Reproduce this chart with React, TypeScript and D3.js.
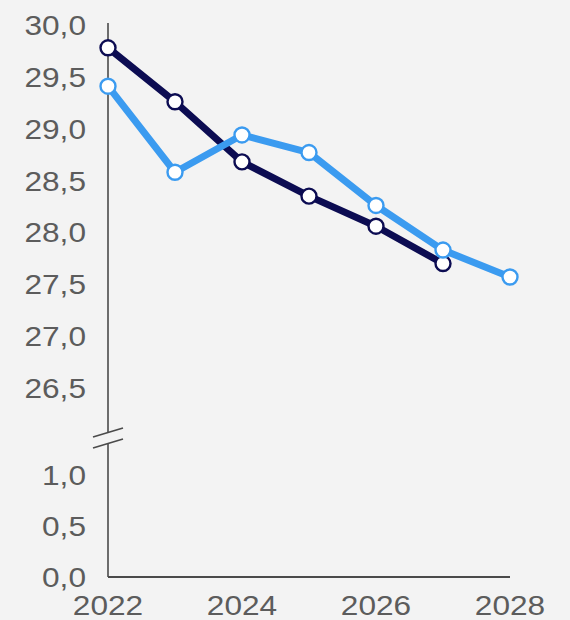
import React from "react";
import * as d3 from "d3";

const years = [2022, 2023, 2024, 2025, 2026, 2027, 2028];
const xTickYears = [2022, 2024, 2026, 2028];
const upperTicks = [26.5, 27.0, 27.5, 28.0, 28.5, 29.0, 29.5, 30.0];
const lowerTicks = [0.0, 0.5, 1.0];

const navyYears = [2022, 2023, 2024, 2025, 2026, 2027];
const navyValues = [29.78, 29.26, 28.68, 28.35, 28.06, 27.7];

const blueYears = [2022, 2023, 2024, 2025, 2026, 2027, 2028];
const blueValues = [29.41, 28.58, 28.94, 28.77, 28.26, 27.83, 27.57];

const W = 570;
const H = 620;
const BG = "#f3f3f3";
const AXIS = "#4a4a4a";
const TEXT = "#5c5c5c";
const NAVY = "#0c0c52";
const BLUE = "#3b9bf0";

const fmt = d3
  .formatLocale({ decimal: ",", thousands: ".", grouping: [3], currency: ["", ""] })
  .format(".1f");

const x = d3.scaleLinear().domain([d3.min(years)!, d3.max(years)!]).range([108, 510]);
const yUpper = d3.scaleLinear().domain([26.5, 30]).range([388, 25]);
const yLower = d3.scaleLinear().domain([0, 1]).range([577, 475]);

const axisX = x(2022);
const axisTop = 23;
const axisBottom = yLower(0);

const line = d3
  .line<[number, number]>()
  .x((d) => x(d[0]))
  .y((d) => yUpper(d[1]));

function Label({ x: px, y: py, anchor, children }: { x: number; y: number; anchor: string; children: React.ReactNode }) {
  return (
    <text
      transform={`translate(${px},${py}) scale(1.13,1)`}
      textAnchor={anchor}
      fontFamily="'Liberation Sans', Arial, sans-serif"
      fontSize={28}
      fill={TEXT}
    >
      {children}
    </text>
  );
}

function Series({ xs, ys, color }: { xs: number[]; ys: number[]; color: string }) {
  const pts = xs.map((yr, i) => [yr, ys[i]] as [number, number]);
  return (
    <g>
      <path d={line(pts) ?? ""} fill="none" stroke={color} strokeWidth={7} strokeLinejoin="round" />
      {pts.map((p, i) => (
        <circle key={i} cx={x(p[0])} cy={yUpper(p[1])} r={7.5} fill="#ffffff" stroke={color} strokeWidth={2.4} />
      ))}
    </g>
  );
}

export default function App() {
  const breakY1 = 437;
  const breakY2 = 448;
  const slope = -9;
  return (
    <svg
      width={W}
      height={H}
      style={{ position: "absolute", left: 0, top: 0, background: BG }}
    >
      <rect width={W} height={H} fill={BG} />

      {/* y axis and x axis */}
      <line x1={axisX} x2={axisX} y1={axisTop} y2={axisBottom} stroke={AXIS} strokeWidth={1.6} />
      <line x1={axisX} x2={x(2028)} y1={axisBottom} y2={axisBottom} stroke={AXIS} strokeWidth={2} />

      {/* axis break */}
      <polygon
        points={`93,${breakY1} 123,${breakY1 + slope} 123,${breakY2 + slope} 93,${breakY2}`}
        fill={BG}
      />
      <line x1={93} y1={breakY1} x2={123} y2={breakY1 + slope} stroke={AXIS} strokeWidth={1.6} />
      <line x1={93} y1={breakY2} x2={123} y2={breakY2 + slope} stroke={AXIS} strokeWidth={1.6} />

      {/* y tick labels */}
      {upperTicks.map((t) => (
        <Label key={`u${t}`} x={86} y={yUpper(t) + 10} anchor="end">
          {fmt(t)}
        </Label>
      ))}
      {lowerTicks.map((t) => (
        <Label key={`l${t}`} x={86} y={yLower(t) + 10} anchor="end">
          {fmt(t)}
        </Label>
      ))}

      {/* x tick labels */}
      {xTickYears.map((yr) => (
        <Label key={yr} x={x(yr)} y={615} anchor="middle">
          {yr}
        </Label>
      ))}

      <Series xs={navyYears} ys={navyValues} color={NAVY} />
      <Series xs={blueYears} ys={blueValues} color={BLUE} />
    </svg>
  );
}
